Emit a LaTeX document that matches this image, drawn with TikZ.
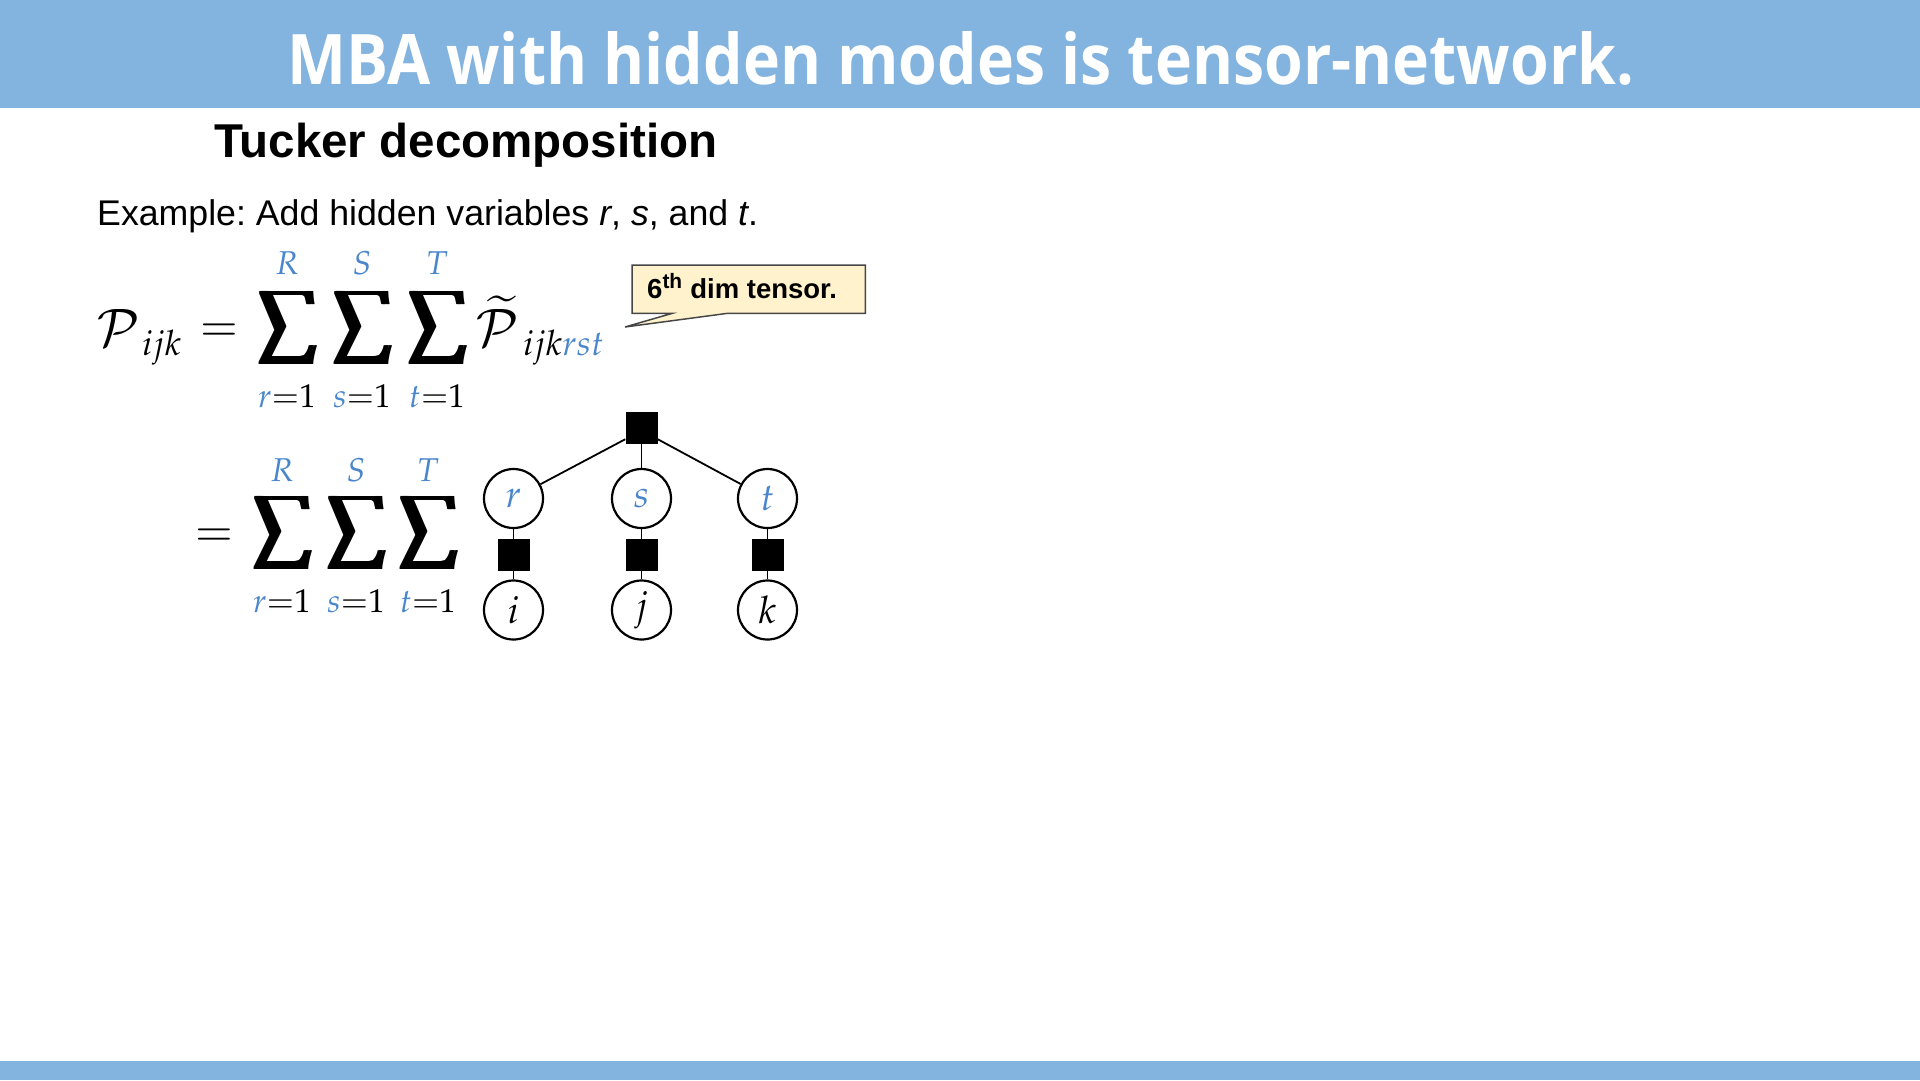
\documentclass[tikz,border=0pt]{standalone}
\usepackage{mathpazo}
\usepackage{graphicx}
\usepackage{fontspec}
\setmainfont{Liberation Sans}
\newfontfamily\titlefont{Open Sans}
\usetikzlibrary{calc}
\definecolor{bannerblue}{RGB}{131,179,223}
\definecolor{varblue}{RGB}{74,134,204}
\definecolor{calloutfill}{RGB}{255,242,204}
\definecolor{calloutline}{RGB}{70,70,70}
\tikzset{
  lim/.style={inner sep=0, anchor=base, font=\fontsize{33}{35}\selectfont},
  subs/.style={inner sep=0, anchor=base west, font=\fontsize{35}{37}\selectfont},
  bigm/.style={inner sep=0, font=\fontsize{52}{54}\selectfont},
  eqsign/.style={inner sep=0, font=\fontsize{46}{48}\selectfont},
  sumsign/.style={inner sep=0},
  vcirc/.style={circle, draw, line width=2.2pt, minimum size=59pt, inner sep=0, font=\fontsize{38}{40}\selectfont},
  fsq/.style={fill=black, minimum size=32pt, inner sep=0},
  link/.style={line width=1.8pt},
}
\newcommand{\onesum}{$\displaystyle\sum$}
\newcommand{\bsum}{\resizebox*{60pt}{73pt}{\rlap{\onesum}\kern0.22pt\rlap{\onesum}\kern0.22pt\rlap{\onesum}\kern0.22pt\rlap{\onesum}\kern0.22pt\rlap{\onesum}\kern0.22pt\onesum}}
\begin{document}
\begin{tikzpicture}[x=1pt,y=-1pt]
\useasboundingbox (0,0) rectangle (1920,1080);
% banners
\fill[bannerblue] (0,0) rectangle (1920,108);
\fill[bannerblue] (0,1061) rectangle (1920,1080);
\node[inner sep=0, anchor=base west, text=white] (title) at (287,84)
  {\resizebox{1347pt}{53pt}{\titlefont\bfseries MBA with hidden modes is tensor-network.}};
% headings
\node[inner sep=0, anchor=base west, font=\fontsize{47.5}{50}\selectfont\bfseries] (tucker) at (214,157) {Tucker decomposition};
\node[inner sep=0, anchor=base west, font=\fontsize{35.7}{40}\selectfont] (example) at (97,225)
  {\frenchspacing Example: Add hidden variables \textit{r}, \textit{s}, and \textit{t}.};
% line 1
\node[bigm, anchor=base west] (P1) at (97,346) {$\mathcal{P}$};
\node[subs] (P1sub) at (142,355) {$ijk$};
\node[eqsign] (eq1) at (219,333) {$=$};
\node[sumsign] (sA1) at (287,328) {\bsum};
\node[sumsign] (sB1) at (362,328) {\bsum};
\node[sumsign] (sC1) at (437,328) {\bsum};
\node[lim] (uA1) at (287,274) {$\color{varblue}R$};
\node[lim] (uB1) at (362,274) {$\color{varblue}S$};
\node[lim] (uC1) at (437,274) {$\color{varblue}T$};
\node[lim] (lA1) at (287,407) {$\color{varblue}r\color{black}{=}1$};
\node[lim] (lB1) at (362,407) {$\color{varblue}s\color{black}{=}1$};
\node[lim] (lC1) at (437,407) {$\color{varblue}t\color{black}{=}1$};
\node[bigm, anchor=base west] (Pt) at (476,346) {$\widetilde{\mathcal{P}}$};
\node[subs] (Ptsub) at (523,355) {$ijk\color{varblue}rst$};
% callout
\node[inner sep=0, anchor=north west, minimum width=233pt, minimum height=48pt] (call) at (632,265) {};
\coordinate (calltip) at (625,327);
\draw[fill=calloutfill, draw=calloutline, line width=1.5pt, line join=miter]
  (call.north west) -- (call.north east) -- (call.south east) -- ($(call.south west)+(95,0)$)
  -- (calltip) -- ($(call.south west)+(40,0)$) -- (call.south west) -- cycle;
\node[inner sep=0, anchor=base west, font=\fontsize{27.5}{30}\selectfont\bfseries] (calltext) at ($(call.west)+(15,9)$)
  {6\textsuperscript{th} dim tensor.};
% line 2
\node[eqsign] (eq2) at (214,538) {$=$};
\node[sumsign] (sA2) at (282,533) {\bsum};
\node[sumsign] (sB2) at (356,533) {\bsum};
\node[sumsign] (sC2) at (428,533) {\bsum};
\node[lim] (uA2) at (282,481) {$\color{varblue}R$};
\node[lim] (uB2) at (356,481) {$\color{varblue}S$};
\node[lim] (uC2) at (428,481) {$\color{varblue}T$};
\node[lim] (lA2) at (282,612) {$\color{varblue}r\color{black}{=}1$};
\node[lim] (lB2) at (356,612) {$\color{varblue}s\color{black}{=}1$};
\node[lim] (lC2) at (428,612) {$\color{varblue}t\color{black}{=}1$};
% tree
\node[fsq] (core) at (641.5,428) {};
\node[vcirc] (cr) at (513.5,498.5) {$\color{varblue}r$};
\node[vcirc] (cs) at (641.5,498.5) {$\color{varblue}s$};
\node[vcirc] (ct) at (767.5,498.5) {$\color{varblue}t$};
\node[fsq] (qr) at (513.5,555) {};
\node[fsq] (qs) at (641.5,555) {};
\node[fsq] (qt) at (767.5,555) {};
\node[vcirc] (ci) at (513.5,610) {$i$};
\node[vcirc] (cj) at (641.5,610) {$j$};
\node[vcirc] (ck) at (767.5,610) {$k$};
\draw[link] ($(core.south west)+(0,-5)$) -- (cr);
\draw[link] ($(core.south east)+(0,-5)$) -- (ct);
\draw[link] (core) -- (cs);
\draw[link] (cr) -- (qr) -- (ci);
\draw[link] (cs) -- (qs) -- (cj);
\draw[link] (ct) -- (qt) -- (ck);
\end{tikzpicture}
\end{document}
